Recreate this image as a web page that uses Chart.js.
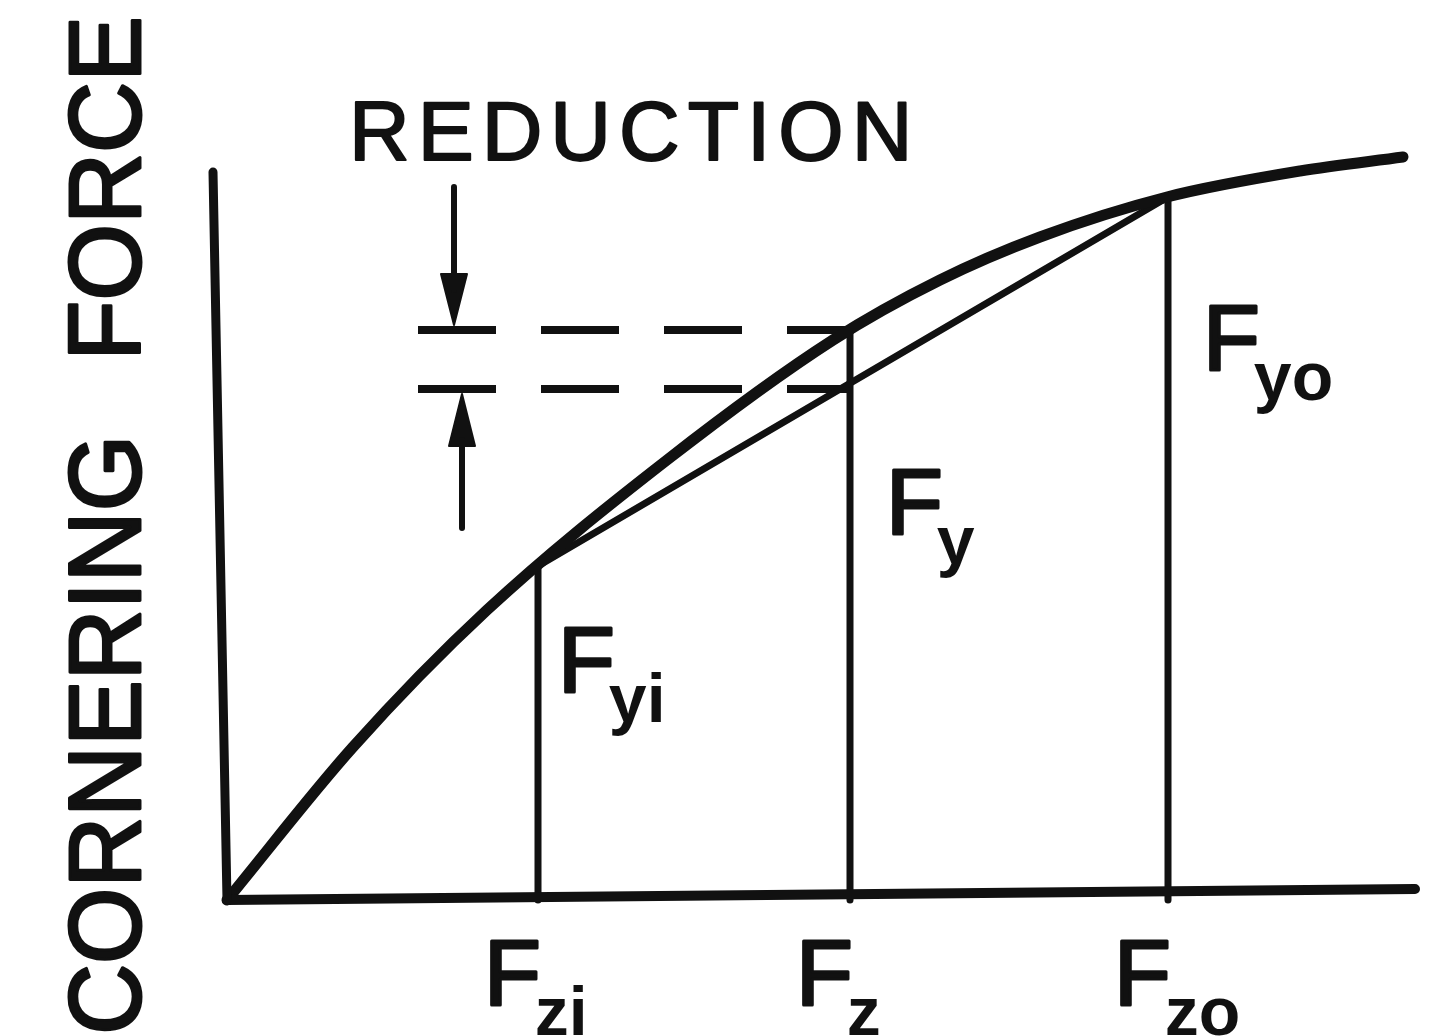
<!DOCTYPE html>
<html>
<head>
<meta charset="utf-8">
<script src="https://cdn.jsdelivr.net/npm/chart.js@4.4.1/dist/chart.umd.min.js"></script>
<style>
  html, body { margin: 0; background: #fff; }
  #wrap { width: 1434px; height: 1036px; }
</style>
</head>
<body>
<div id="wrap"><canvas id="chart"></canvas></div>
<script>
// tire load (x) vs cornering force (y), arbitrary units
const curveLoad  = [0, 12.6, 26.0, 44.0, 60.6, 71.3, 81.3, 94.0, 107.3, 117.6];
const curveForce = [0, 15.3, 29.0, 44.0, 56.0, 62.0, 66.3, 70.3, 72.9, 74.3];

const loads = [31.1, 62.3, 94.1];          // Fzi, Fz, Fzo
const loadNames = ["zi", "z", "zo"];
const forces = [33.4, 57.0, 70.3];         // Fyi, curve at Fz, Fyo
const forceNames = ["yi", "y", "yo"];
const reducedForce = 51.1;                 // Fy on the chord
const dashStart = 19.1;

const yTitle = ["CORNERING", "FORCE"];
const note = "REDUCTION";

const ink = "#111";
const pts = (xs, ys) => xs.map((x, i) => ({ x, y: ys[i] }));

const line = (data, width, extra) => Object.assign({
  data, showLine: true, borderColor: ink, backgroundColor: ink,
  borderWidth: width, pointRadius: 0, fill: false, tension: 0,
  borderCapStyle: "round", borderJoinStyle: "round"
}, extra || {});

const datasets = [
  line([{ x: -1.4, y: 72.8 }, { x: 0, y: 0 }], 9),
  line([{ x: 0, y: 0 }, { x: 118.8, y: 1.1 }], 10),
  line(pts(curveLoad, curveForce), 11, { cubicInterpolationMode: "monotone" }),
  line([{ x: loads[0], y: forces[0] }, { x: loads[2], y: forces[2] }], 7),
  line([{ x: dashStart, y: forces[1] }, { x: loads[1], y: forces[1] }], 8, { borderDash: [78, 45], borderCapStyle: "butt" }),
  line([{ x: dashStart, y: reducedForce }, { x: loads[1], y: reducedForce }], 8, { borderDash: [78, 45], borderCapStyle: "butt" }),
  // arrows for the reduction
  line([{ x: 22.7, y: 71.3 }, { x: 22.7, y: 61 }], 6),
  line([{ x: 21.4, y: 62.6 }, { x: 22.7, y: 57.5 }, { x: 24.0, y: 62.6 }, { x: 21.4, y: 62.6 }], 2, { fill: "shape" }),
  line([{ x: 23.5, y: 37.2 }, { x: 23.5, y: 46 }], 6),
  line([{ x: 22.2, y: 45.4 }, { x: 23.5, y: 50.6 }, { x: 24.8, y: 45.4 }, { x: 22.2, y: 45.4 }], 2, { fill: "shape" })
];
loads.forEach((x, i) => datasets.push(line([{ x, y: 0 }, { x, y: forces[i] }], 7)));

function fitText(ctx, text, x, y, width) {
  const m = ctx.measureText(text);
  const w = m.actualBoundingBoxLeft + m.actualBoundingBoxRight;
  ctx.save();
  ctx.translate(x, y);
  ctx.scale(width / w, 1);
  ctx.fillText(text, m.actualBoundingBoxLeft, 0);
  ctx.strokeText(text, m.actualBoundingBoxLeft, 0);
  ctx.restore();
}

function fLabel(ctx, sub, x, y) {
  ctx.font = '93px "Liberation Sans", Arial, sans-serif';
  ctx.fillText("F", x, y);
  ctx.strokeText("F", x, y);
  const w = ctx.measureText("F").width;
  ctx.font = 'bold 68px "Liberation Sans", Arial, sans-serif';
  ctx.fillText(sub, x + w - 6, y + 30);
}

const labels = {
  id: "labels",
  afterDatasetsDraw(chart) {
    const { ctx, scales: { x, y } } = chart;
    ctx.save();
    ctx.fillStyle = ink;
    ctx.strokeStyle = ink;
    ctx.lineWidth = 3;
    ctx.lineJoin = "round";
    ctx.textBaseline = "alphabetic";

    loads.forEach((v, i) => fLabel(ctx, loadNames[i], x.getPixelForValue(v) - 54, 1005));
    const fyAt = [forces[0], reducedForce, forces[2]];
    const off = [[20, 126], [36, 145], [35, 173]];
    fyAt.forEach((v, i) => fLabel(ctx, forceNames[i], x.getPixelForValue(loads[i]) + off[i][0], y.getPixelForValue(v) + off[i][1]));

    ctx.font = '84px "Liberation Sans", Arial, sans-serif';
    ctx.letterSpacing = "8px";
    ctx.lineWidth = 2;
    ctx.fillText(note, 349, 160);
    ctx.strokeText(note, 349, 160);
    ctx.letterSpacing = "0px";

    ctx.font = '102px "Liberation Sans", Arial, sans-serif';
    ctx.lineWidth = 3;
    ctx.save();
    ctx.translate(140, 1030);
    ctx.rotate(-Math.PI / 2);
    fitText(ctx, yTitle[0], 0, 0, 588);
    ctx.restore();
    ctx.save();
    ctx.translate(140, 353);
    ctx.rotate(-Math.PI / 2);
    fitText(ctx, yTitle[1], 0, 0, 333);
    ctx.restore();
    ctx.restore();
  }
};

new Chart(document.getElementById("chart"), {
  type: "scatter",
  data: { datasets },
  options: {
    responsive: true,
    maintainAspectRatio: false,
    animation: false,
    layout: { padding: 0 },
    plugins: { legend: { display: false }, tooltip: { enabled: false } },
    scales: {
      x: { type: "linear", min: -22.7, max: 120.7, display: false },
      y: { type: "linear", min: -13.6, max: 90, display: false }
    }
  },
  plugins: [labels]
});
</script>
</body>
</html>
